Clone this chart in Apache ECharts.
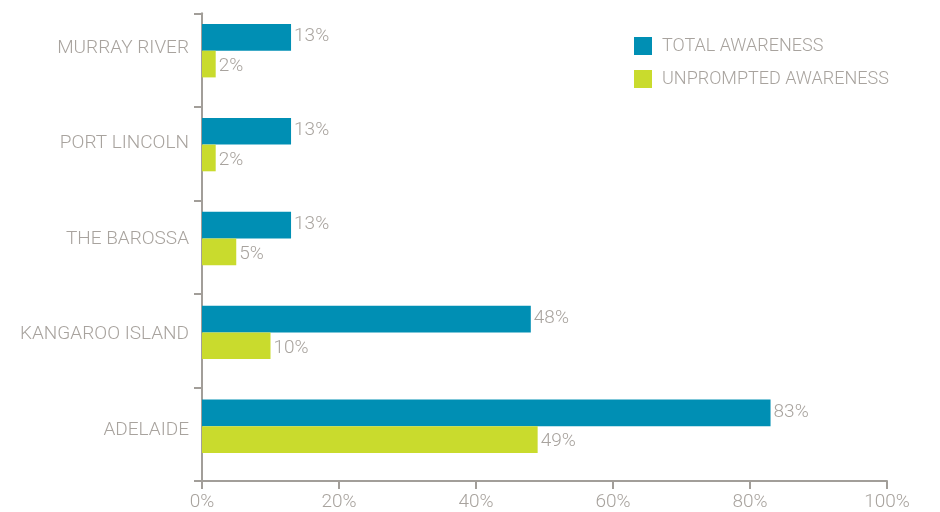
<!DOCTYPE html>
<html>
<head>
<meta charset="utf-8">
<script src="https://cdn.jsdelivr.net/npm/echarts@6/dist/echarts.min.js"></script>
<style>
  html, body { margin: 0; padding: 0; background: #ffffff; }
  #chart { width: 940px; height: 512px; }
</style>
</head>
<body>
<div id="chart"></div>
<script>
// Destinations, listed bottom to top as they appear on the axis
const destinations = ['ADELAIDE', 'KANGAROO ISLAND', 'THE BAROSSA', 'PORT LINCOLN', 'MURRAY RIVER'];
// Awareness shares, in percent
const totalAwareness = [83, 48, 13, 13, 13];
const unpromptedAwareness = [49, 10, 5, 2, 2];
const seriesNames = ['TOTAL AWARENESS', 'UNPROMPTED AWARENESS'];
const percentTicks = [0, 20, 40, 60, 80, 100];

const TEXT = '#a8a39e';
const AXIS = '#a29e99';
const FONT = 'Roboto';

const chart = echarts.init(document.getElementById('chart'), null, { renderer: 'canvas' });

const pct = v => v + '%';

chart.setOption({
  backgroundColor: '#ffffff',
  animation: false,
  textStyle: { fontFamily: FONT, fontWeight: 300, color: TEXT },
  legend: {
    orient: 'vertical',
    left: 634,
    top: 37,
    padding: 0,
    itemWidth: 18,
    itemHeight: 18,
    itemGap: 15,
    data: seriesNames,
    icon: 'rect',
    textStyle: { fontFamily: FONT, fontWeight: 300, fontSize: 18, color: TEXT, padding: [0, 0, 0, 5] }
  },
  grid: [
    // frame: axis lines and ticks
    { left: 202, right: 53, top: 13.3, bottom: 29.7 },
    // bars
    { left: 202, right: 53, top: 3.75, bottom: 38.75 },
    // destination names
    { left: 202, right: 53, top: -3.1, bottom: 33.9 }
  ],
  xAxis: [
    {
      gridIndex: 0, type: 'value', min: 0, max: 100, interval: 20,
      axisLine: { show: true, lineStyle: { color: AXIS, width: 2 } },
      axisTick: { show: true, length: 8, lineStyle: { color: AXIS, width: 2 } },
      splitLine: { show: false },
      axisLabel: {
        margin: 12, fontFamily: FONT, fontWeight: 300, fontSize: 19, color: TEXT,
        formatter: v => percentTicks.includes(v) ? pct(v) : ''
      }
    },
    { gridIndex: 1, type: 'value', min: 0, max: 100, show: false },
    { gridIndex: 2, type: 'value', min: 0, max: 100, show: false }
  ],
  yAxis: [
    {
      gridIndex: 0, type: 'category', data: destinations,
      axisLine: { show: true, lineStyle: { color: AXIS, width: 2 } },
      axisTick: { show: true, length: 8, lineStyle: { color: AXIS, width: 2 } },
      axisLabel: { show: false }
    },
    {
      gridIndex: 1, type: 'category', data: destinations,
      axisLine: { show: false }, axisTick: { show: false }, axisLabel: { show: false }
    },
    {
      gridIndex: 2, type: 'category', data: destinations,
      axisLine: { show: false }, axisTick: { show: false },
      axisLabel: { margin: 13, fontFamily: FONT, fontWeight: 300, fontSize: 19, color: TEXT }
    }
  ],
  series: [
    {
      name: seriesNames[0], type: 'bar', xAxisIndex: 1, yAxisIndex: 1,
      data: totalAwareness, barWidth: 26.7, barGap: '0%',
      itemStyle: { color: '#008fb4' },
      label: {
        show: true, position: 'right', distance: 3, offset: [0, -1], formatter: p => pct(p.value),
        fontFamily: FONT, fontWeight: 300, fontSize: 19, color: TEXT
      }
    },
    {
      name: seriesNames[1], type: 'bar', xAxisIndex: 1, yAxisIndex: 1,
      data: unpromptedAwareness, barWidth: 26.7, barGap: '0%',
      itemStyle: { color: '#c9db2d' },
      label: {
        show: true, position: 'right', distance: 3, offset: [0, 2], formatter: p => pct(p.value),
        fontFamily: FONT, fontWeight: 300, fontSize: 19, color: TEXT
      }
    }
  ]
});
</script>
</body>
</html>
